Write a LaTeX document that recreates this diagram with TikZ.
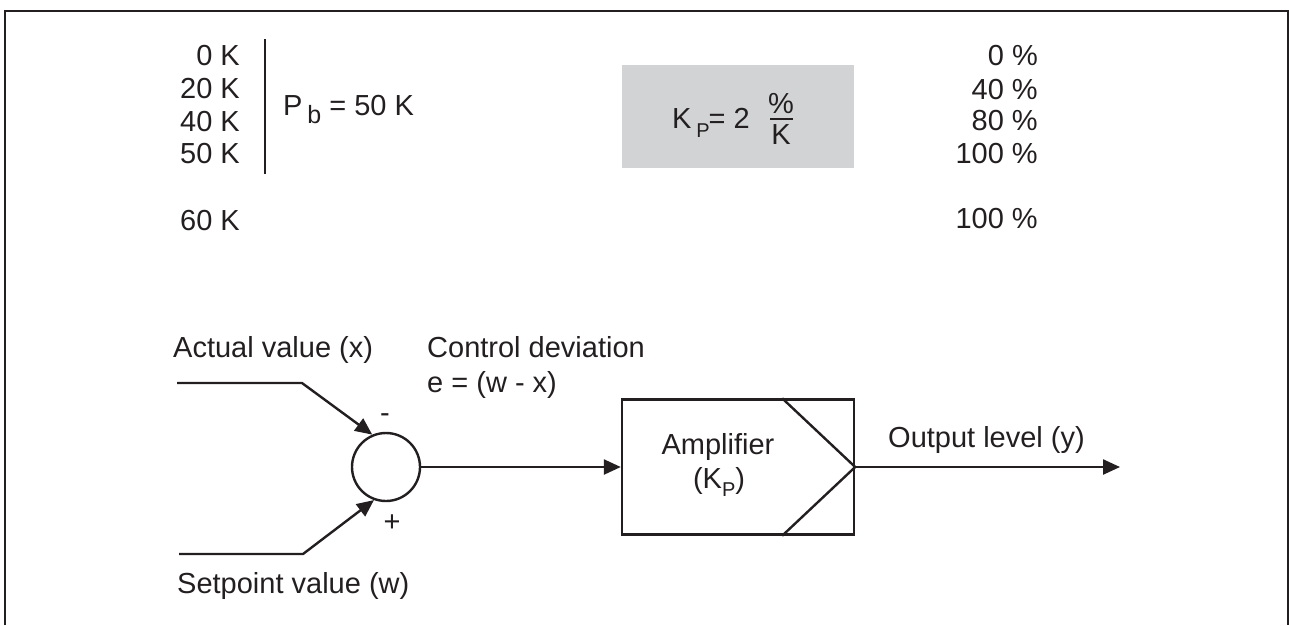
\documentclass[tikz,border=0pt]{standalone}
\usepackage{fontspec}
\setmainfont{Liberation Sans}
\usetikzlibrary{arrows.meta}
\definecolor{ink}{RGB}{35,31,32}
\definecolor{boxgray}{RGB}{209,211,212}
\begin{document}
\begin{tikzpicture}[x=1pt,y=-1pt,
  txt/.style={inner sep=0pt, font=\fontsize{29}{34}\selectfont, text=ink},
  ln/.style={line width=2.4pt, draw=ink},
  arr/.style={ln, -{Triangle[length=17pt,width=15pt]}},
]
\useasboundingbox (0,0) rectangle (1289,625);
\draw[line width=2.4pt, ink] (5,625) -- (5,11) -- (1288,11) -- (1288,625);

% left column
\node[txt, anchor=base east] (k0) at (240,65) {0 K};
\node[txt, anchor=base east] (k20) at (240,98) {20 K};
\node[txt, anchor=base east] (k40) at (240,131) {40 K};
\node[txt, anchor=base east] (k50) at (240,163) {50 K};
\node[txt, anchor=base east] (k60) at (240,230) {60 K};
\draw[ln] (265,39) -- (265,174);
\node[txt, anchor=base west] (pb) at (283,115) {P\,\raisebox{-8pt}{\fontsize{25}{25}\selectfont b} = 50 K};

% gray box
\node[fill=boxgray, minimum width=232pt, minimum height=103pt, inner sep=0pt] (kpbox) at (738,116.5) {};
\node[txt, anchor=base west] (kp) at (672,128) {K\,\raisebox{-9pt}{\fontsize{20}{20}\selectfont P}\kern-1pt= 2};
\node[txt, anchor=base] (pct) at (781,113) {\%};
\node[txt, anchor=base] (kden) at (781,144) {K};
\draw[line width=1.8pt, ink] (770,119) -- (793,119);

% right column
\node[txt, anchor=base east] (p0) at (1038,65) {0 \%};
\node[txt, anchor=base east] (p40) at (1038,99) {40 \%};
\node[txt, anchor=base east] (p80) at (1038,130) {80 \%};
\node[txt, anchor=base east] (p100a) at (1038,163) {100 \%};
\node[txt, anchor=base east] (p100b) at (1038,228) {100 \%};

% block diagram
\node[txt, anchor=base west] (xlab) at (173,357) {Actual value (x)};
\node[txt, anchor=base west] (elab) at (427,357) {Control deviation};
\node[txt, anchor=base west] (elab2) at (427,392) {e = (w - x)};
\node[txt, anchor=base west] (wlab) at (177,593) {Setpoint value (w)};

\node[draw=ink, circle, line width=2.4pt, minimum size=68pt, inner sep=0pt] (sum) at (386,467) {};
\coordinate (xin) at (177,383);
\coordinate (xbend) at (302,383);
\draw[arr] (xin) -- (xbend) -- (sum.113);
\coordinate (win) at (179,554);
\coordinate (wbend) at (303,554);
\draw[arr] (win) -- (wbend) -- (sum.250);
\node[txt] (minus) at (385,418) {-};
\node[txt] (plus) at (392,523) {+};

\node[draw=ink, line width=2.4pt, minimum width=232pt, minimum height=135pt, inner sep=0pt] (amp) at (738,467) {};
\draw[ln] ([xshift=-73pt]amp.north east) -- (amp.east) -- ([xshift=-73pt]amp.south east);
\node[txt, anchor=base] (amplab) at (718,454) {Amplifier};
\node[txt, anchor=base] (amplab2) at (719,488) {(K\raisebox{-8pt}{\fontsize{20}{20}\selectfont P})};

\draw[arr] (sum.east) -- (amp.west);
\coordinate (yout) at (1120,467);
\draw[arr] (amp.east) -- (yout);
\node[txt, anchor=base west] (ylab) at (888,447) {Output level (y)};
\end{tikzpicture}
\end{document}
